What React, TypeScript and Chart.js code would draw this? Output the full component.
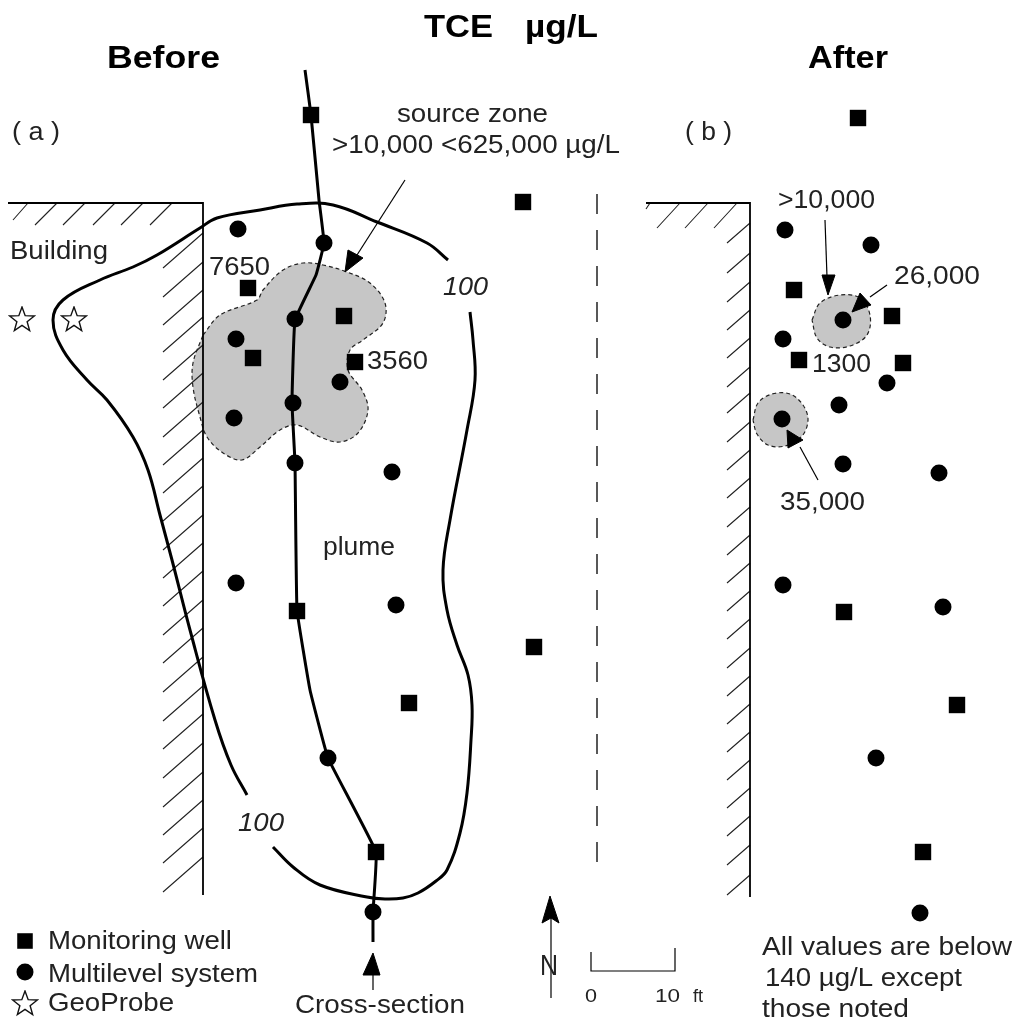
import React, { useEffect, useRef } from "react";
import { Chart, registerables } from "chart.js";

Chart.register(...registerables);

type P = [number, number];

const squaresBefore: P[] = [[311,115],[523,202],[248,288],[344,316],[253,358],[355,362],[297,611],[534,647],[409,703],[376,852]];
const circlesBefore: P[] = [[238,229],[324,243],[295,319],[236,339],[340,382],[293,403],[234,418],[295,463],[392,472],[236,583],[396,605],[328,758],[373,912]];
const squaresAfter: P[] = [[858,118],[794,290],[892,316],[799,360],[903,363],[844,612],[957,705],[923,852]];
const circlesAfter: P[] = [[785,230],[871,245],[843,320],[783,339],[887,383],[839,405],[782,419],[843,464],[939,473],[783,585],[943,607],[876,758],[920,913]];
const geoProbes: P[] = [[22,320],[74,320]];
const legendSquare: P[] = [[25,941]];
const legendCircle: P[] = [[25,972]];
const legendStar: P[] = [[25,1004]];

const sourceZone: P[] = [[203,335],[220,315],[257,300],[263,290],[283,270],[303,263],[323,265],[347,272],[370,283],[385,303],[383,323],[363,340],[350,350],[348,370],[362,390],[368,410],[358,433],[340,442],[320,437],[297,425],[280,430],[260,447],[242,460],[223,453],[207,437],[200,417],[193,387],[193,363],[203,335]];
const blobNorth: P[] = [[812,320],[820,303],[840,295],[860,298],[870,315],[867,335],[850,346],[830,347],[817,338],[812,320]];
const blobSouth: P[] = [[753,420],[758,403],[772,394],[790,394],[803,405],[808,420],[802,436],[785,446],[768,445],[757,434],[753,420]];

const plumeLeft: P[] = [[448,260],[427,243],[377,222],[333,205],[297,204],[260,210],[217,218],[200,228],[157,255],[133,267],[100,280],[63,300],[53,320],[63,350],[87,380],[107,400],[133,437],[148,470],[160,515],[172,560],[190,630],[215,720],[231,765],[247,795]];
const plumeRight: P[] = [[273,847],[293,867],[320,885],[367,897],[385,899],[403,898],[418,893],[436,881],[447,870],[460,833],[467,793],[471,740],[472,705],[468,675],[457,645],[447,610],[443,570],[450,520],[467,430],[475,380],[473,340],[470,312]];
const crossSection: P[] = [[305,70],[311,115],[319,200],[324,243],[316,275],[295,320],[292,403],[295,463],[297,610],[310,690],[328,758],[376,852],[373,912],[373,942]];

const wallBefore: P[] = [[8,203],[203,203],[203,895]];
const wallAfter: P[] = [[646,203],[750,203],[750,897]];
const centerLine: P[] = [[597,194],[597,863]];

const topTicksBefore: number[] = [28,57,85,115,143,172];
const sideTicksBefore: number[] = [233,262,290,317,345,373,402,430,458,486,515,543,571,600,628,657,686,714,743,772,800,828,857];
const topTicksAfter: number[] = [680,708,737];
const sideTicksAfter: number[] = [223,253,282,310,338,367,393,422,450,478,507,535,563,591,619,648,676,704,732,760,788,816,845,875];

const arrowLines: P[][] = [
  [[405,180],[357,255]],
  [[825,220],[827,277]],
  [[887,285],[870,297]],
  [[818,480],[800,447]],
  [[373,990],[373,975]],
  [[551,998],[551,910]],
];
const arrowHeads: P[][] = [
  [[345,272],[348,250],[363,258],[345,272]],
  [[828,295],[822,275],[835,275],[828,295]],
  [[852,312],[860,293],[871,305],[852,312]],
  [[787,430],[788,448],[803,440],[787,430]],
  [[373,953],[363,975],[380,975],[373,953]],
  [[550,896],[542,923],[551,918],[559,923],[550,896]],
];
const scaleBar: P[] = [[591,952],[591,971],[675,971],[675,948]];

// [text, left, baseline, width, font size, style]
const labels: [string, number, number, number, number, string][] = [
  ["TCE", 424, 37, 69, 32, "bold"],
  ["µg/L", 525, 37, 73, 32, "bold"],
  ["Before", 107, 68, 113, 31, "bold"],
  ["After", 808, 68, 80, 31, "bold"],
  ["( a )", 12, 140, 48, 25, ""],
  ["( b )", 685, 140, 47, 25, ""],
  ["source zone", 397, 122, 151, 25, ""],
  [">10,000 <625,000 µg/L", 332, 153, 288, 25, ""],
  ["Building", 10, 259, 98, 25, ""],
  ["7650", 209, 275, 61, 25, ""],
  ["100", 443, 295, 45, 25, "italic"],
  ["3560", 367, 369, 61, 25, ""],
  ["plume", 323, 555, 72, 25, ""],
  ["100", 238, 831, 46, 25, "italic"],
  ["Monitoring well", 48, 949, 184, 25, ""],
  ["Multilevel system", 48, 982, 210, 25, ""],
  ["GeoProbe", 48, 1011, 126, 25, ""],
  ["Cross-section", 295, 1013, 170, 25, ""],
  [">10,000", 778, 208, 97, 25, ""],
  ["26,000", 894, 284, 86, 25, ""],
  ["1300", 812, 372, 59, 25, ""],
  ["35,000", 780, 510, 85, 25, ""],
  ["N", 540, 975, 18, 30, ""],
  ["0", 585, 1002, 12, 18, ""],
  ["10", 655, 1002, 25, 18, ""],
  ["ft", 693, 1002, 10, 18, ""],
  ["All values are below", 762, 955, 250, 25, ""],
  ["140 µg/L except", 765, 986, 197, 25, ""],
  ["those noted", 762, 1017, 147, 25, ""],
];

const INK = "#000000";
const GREY = "#c6c6c6";

const pts = (list: P[]) => list.map(([x, y]) => ({ x, y }));
const withGaps = (segments: P[][]) =>
  segments.flatMap((s) => [...pts(s), { x: null as any, y: null as any }]);

const makeStar = () => {
  const c = document.createElement("canvas");
  c.width = 28;
  c.height = 28;
  const g = c.getContext("2d")!;
  g.beginPath();
  for (let i = 0; i < 10; i++) {
    const r = i % 2 === 0 ? 13 : 5.4;
    const a = -Math.PI / 2 + (i * Math.PI) / 5;
    const px = 14 + r * Math.cos(a);
    const py = 14 + r * Math.sin(a);
    if (i === 0) g.moveTo(px, py);
    else g.lineTo(px, py);
  }
  g.closePath();
  g.strokeStyle = "#111";
  g.lineWidth = 1.4;
  g.stroke();
  return c;
};

const line = (data: any[], width: number, extra: any = {}) => ({
  data,
  showLine: true,
  borderColor: INK,
  borderWidth: width,
  pointRadius: 0,
  spanGaps: false,
  tension: 0,
  borderCapStyle: "butt",
  ...extra,
});

const markers = (list: P[], style: any, radius: number) => ({
  data: pts(list),
  showLine: false,
  pointStyle: style,
  pointRadius: radius,
  pointBorderWidth: 0,
  pointBackgroundColor: INK,
  pointBorderColor: INK,
});

const zone = (list: P[]) =>
  line(pts(list), 1.2, {
    fill: "shape",
    backgroundColor: GREY,
    borderColor: "#222",
    borderDash: [4, 3],
    tension: 0.35,
  });

const head = (list: P[]) =>
  line(pts(list), 1, { fill: "shape", backgroundColor: INK });

const textPlugin = {
  id: "mapLabels",
  afterDatasetsDraw(chart: any) {
    const { ctx, scales } = chart;
    ctx.save();
    ctx.textBaseline = "alphabetic";
    ctx.textAlign = "left";
    for (const [text, x, y, w, size, style] of labels) {
      ctx.fillStyle = style === "bold" ? "#000" : "#222";
      ctx.font = `${style} ${size}px "Liberation Sans", Arial, sans-serif`;
      const natural = ctx.measureText(text).width;
      ctx.save();
      ctx.translate(scales.x.getPixelForValue(x), scales.y.getPixelForValue(y));
      ctx.scale(w / natural, 1);
      ctx.fillText(text, 0, 0);
      ctx.restore();
    }
    ctx.restore();
  },
};

export default function App() {
  const ref = useRef<HTMLCanvasElement>(null);

  useEffect(() => {
    const star = makeStar();
    const hatch: P[][] = [
      ...topTicksBefore.map((x, i): P[] => [[x, 203], i === 0 ? [13, 220] : [x - 22, 225]]),
      ...sideTicksBefore.map((y): P[] => [[203, y], [163, y + 35]]),
      ...topTicksAfter.map((x): P[] => [[x, 203], [x - 23, 228]]),
      [[650, 203], [646, 209]],
      ...sideTicksAfter.map((y): P[] => [[750, y], [727, y + 20]]),
    ];

    // listed bottom to top
    const layers: any[] = [
      zone(sourceZone),
      zone(blobNorth),
      zone(blobSouth),
      line(withGaps(hatch), 1.1, { borderColor: "#222" }),
      line(pts(wallBefore), 1.8),
      line(pts(wallAfter), 1.8),
      line(pts(centerLine), 1.5, { borderDash: [20, 16], borderColor: "#222" }),
      line(pts(plumeLeft), 3, { tension: 0.4 }),
      line(pts(plumeRight), 3, { tension: 0.4 }),
      line(pts(crossSection), 3, { tension: 0.08 }),
      ...arrowLines.map((s) => line(pts(s), 1.2)),
      ...arrowHeads.map(head),
      line(pts(scaleBar), 1.2),
      markers(squaresBefore, "rect", 11.6),
      markers(circlesBefore, "circle", 8.5),
      markers(squaresAfter, "rect", 11.6),
      markers(circlesAfter, "circle", 8.5),
      markers(legendSquare, "rect", 11),
      markers(legendCircle, "circle", 8.5),
      markers(geoProbes, star, 14),
      markers(legendStar, star, 14),
    ];
    const datasets = layers.map((d, i) => ({ ...d, order: layers.length - i }));

    const chart = new Chart(ref.current!, {
      type: "scatter",
      data: { datasets },
      options: {
        responsive: false,
        animation: false,
        layout: { padding: 0, autoPadding: false },
        scales: {
          x: { type: "linear", min: 0, max: 1016, display: false },
          y: { type: "linear", min: 0, max: 1021, reverse: true, display: false },
        },
        plugins: { legend: { display: false }, tooltip: { enabled: false }, title: { display: false } },
      },
      plugins: [textPlugin],
    } as any);
    return () => chart.destroy();
  }, []);

  return (
    <canvas
      ref={ref}
      width={1016}
      height={1021}
      style={{ position: "absolute", left: 0, top: 0, display: "block", filter: "blur(0.35px)" }}
    />
  );
}
